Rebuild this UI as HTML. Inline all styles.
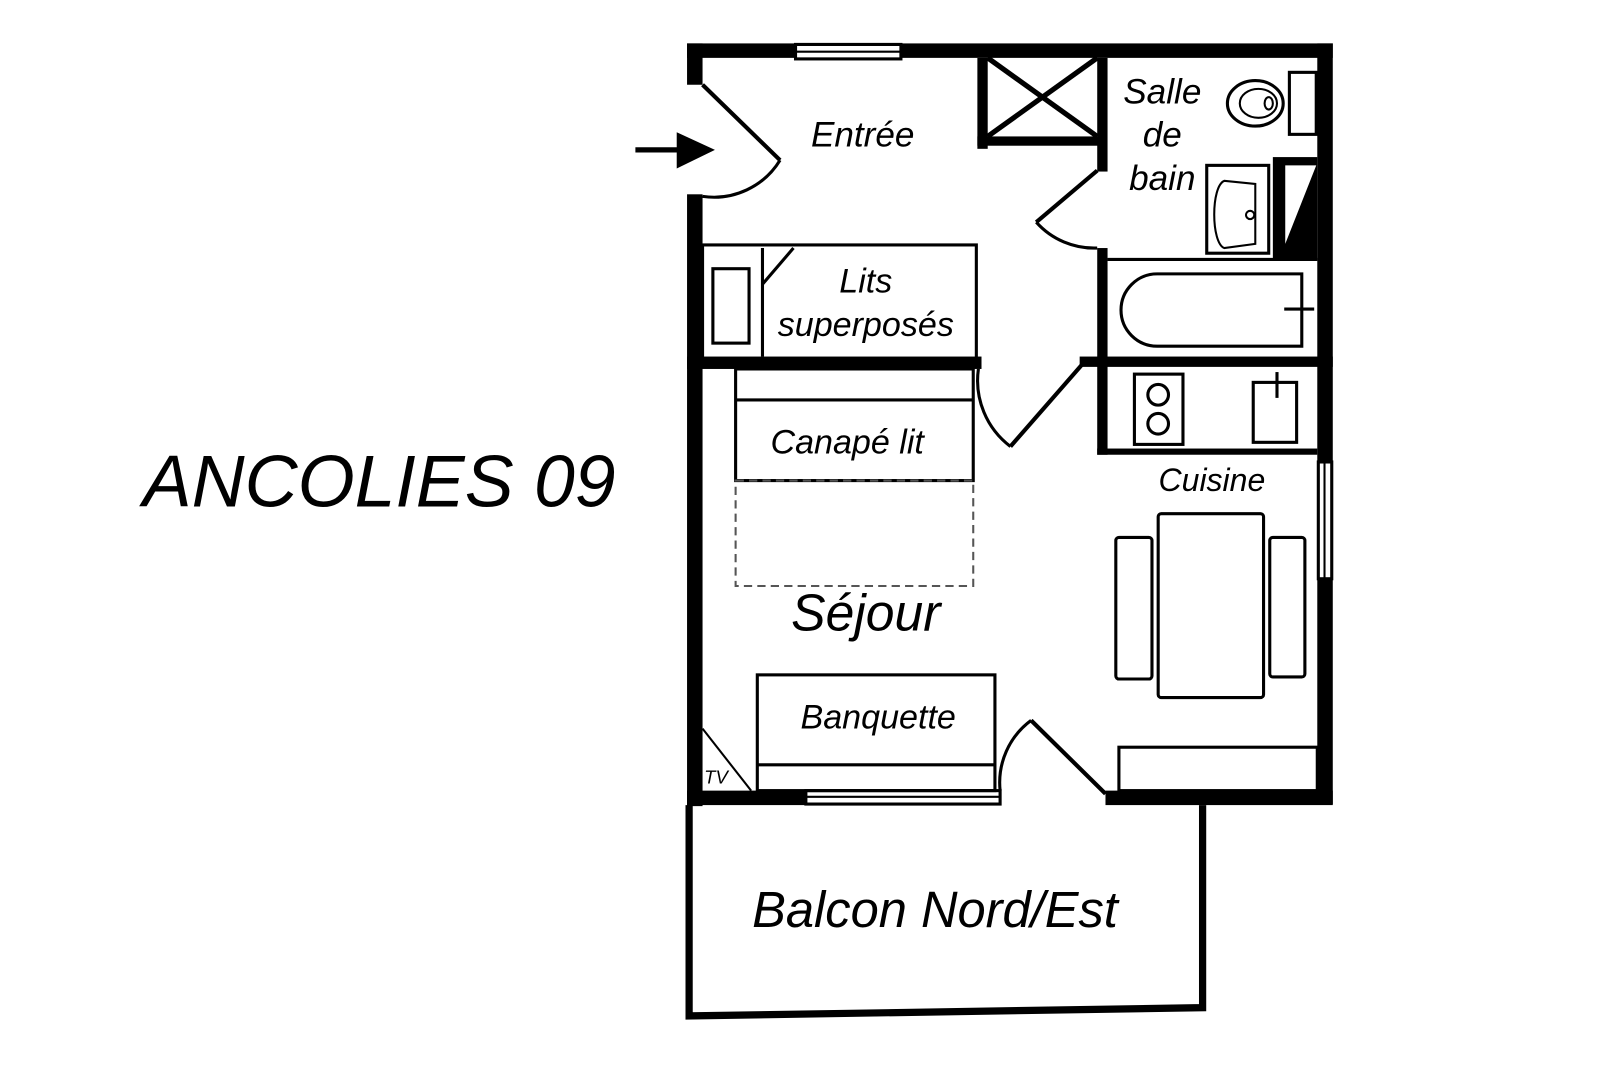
<!DOCTYPE html>
<html><head><meta charset="utf-8"><style>
html,body{margin:0;padding:0;background:#fff;width:1620px;height:1080px;overflow:hidden}
svg{display:block}
text{font-family:"Liberation Sans",sans-serif;font-style:italic;fill:#000;text-anchor:middle}
</style></head><body>
<svg width="1620" height="1080" viewBox="0 0 1568 1045" preserveAspectRatio="none" xmlns="http://www.w3.org/2000/svg">
<g fill="#000" stroke="none">
<rect x="665" y="42" width="105" height="14"/>
<rect x="872" y="42" width="418" height="14"/>
<rect x="665" y="42" width="15" height="40"/>
<rect x="665" y="188" width="15" height="592"/>
<rect x="1275" y="42" width="15" height="405"/>
<rect x="1275" y="560" width="15" height="218"/>
<rect x="665" y="765" width="115" height="14"/>
<rect x="1070" y="765" width="220" height="14"/>
<rect x="665" y="345" width="285" height="12"/>
<rect x="946" y="56" width="10" height="88"/>
<rect x="946" y="132" width="118" height="9"/>
<rect x="1062" y="56" width="10" height="110"/>
<rect x="1062" y="240" width="10" height="115"/>
<rect x="1045" y="345" width="245" height="10"/>
<rect x="1062" y="345" width="10" height="95"/>
<rect x="1062" y="434" width="213" height="6"/>
<rect x="1232" y="152" width="43" height="100"/>
</g>
<polygon points="1244,160 1274,160 1244,236" fill="#fff"/>
<g fill="none" stroke="#000" stroke-width="3">
<rect x="770" y="43" width="102" height="14"/><line x1="770" y1="50" x2="872" y2="50" stroke-width="2"/>
<rect x="1276" y="447" width="13" height="113"/><line x1="1282" y1="447" x2="1282" y2="560" stroke-width="2"/>
<rect x="780" y="765" width="188" height="13"/><line x1="780" y1="771" x2="968" y2="771" stroke-width="2"/>
<polyline points="667,779 667,983 1164,975 1164,779" stroke-width="7"/>
<line x1="680" y1="82" x2="755" y2="155" stroke-width="4"/>
<path d="M755,155 A75,75 0 0 1 680,190"/>
<line x1="956" y1="56" x2="1062" y2="132" stroke-width="5"/>
<line x1="1062" y1="56" x2="956" y2="132" stroke-width="5"/>
<line x1="1062" y1="165" x2="1003" y2="215" stroke-width="4"/>
<path d="M1003,215 A75,75 0 0 0 1062,240"/>
<line x1="1072" y1="251" x2="1275" y2="251"/>
<path d="M1260,265 H1120 A35,35 0 0 0 1120,335 H1260 Z"/>
<line x1="1243" y1="299" x2="1272" y2="299"/>
<rect x="1248" y="70" width="26" height="60"/>
<ellipse cx="1215" cy="100" rx="27" ry="22"/>
<ellipse cx="1218" cy="100" rx="18" ry="14" stroke-width="2"/>
<ellipse cx="1228" cy="100" rx="4" ry="6" stroke-width="2"/>
<rect x="1168" y="160" width="60" height="85"/>
<path d="M1185,175 C1172,180 1172,235 1185,240 L1215,236 L1215,178 Z" stroke-width="2"/>
<circle cx="1210" cy="208" r="4" stroke-width="2"/>
<rect x="1098" y="362" width="47" height="68"/>
<circle cx="1121" cy="382" r="10"/><circle cx="1121" cy="410" r="10"/>
<rect x="1213" y="370" width="42" height="58"/>
<line x1="1236" y1="360" x2="1236" y2="385"/>
<rect x="680" y="237" width="265" height="110"/>
<rect x="690" y="260" width="35" height="72"/>
<line x1="738" y1="240" x2="738" y2="345"/>
<line x1="738" y1="275" x2="768" y2="240"/>
<path d="M947,357 A80,80 0 0 0 978,432"/>
<line x1="978" y1="432" x2="1048" y2="352" stroke-width="4"/>
<rect x="712" y="357" width="230" height="108"/>
<line x1="712" y1="387" x2="942" y2="387"/>
<rect x="712" y="465" width="230" height="102" stroke-width="2" stroke-dasharray="8,5" stroke="#555"/>
<rect x="733" y="653" width="230" height="112"/>
<line x1="733" y1="740" x2="963" y2="740"/>
<line x1="680" y1="705" x2="727" y2="765" stroke-width="2"/>
<path d="M968,765 A75,75 0 0 1 998,697"/>
<line x1="998" y1="697" x2="1070" y2="768" stroke-width="4"/>
<rect x="1121" y="497" width="102" height="178" rx="3"/>
<rect x="1080" y="520" width="35" height="137" rx="3"/>
<rect x="1229" y="520" width="34" height="135" rx="3"/>
<rect x="1083" y="723" width="192" height="42"/>
<line x1="615" y1="145" x2="660" y2="145" stroke-width="5"/>
</g>
<polygon points="655,128 692,145 655,163" fill="#000"/>
<text x="835" y="142" font-size="34">Entrée</text>
<text x="1125" y="100" font-size="34">Salle</text>
<text x="1125" y="142" font-size="34">de</text>
<text x="1125" y="184" font-size="34">bain</text>
<text x="838" y="283" font-size="33">Lits</text>
<text x="838" y="325" font-size="33">superposés</text>
<text x="820" y="439" font-size="33">Canapé lit</text>
<text x="1173" y="475" font-size="31">Cuisine</text>
<text x="838" y="610" font-size="50">Séjour</text>
<text x="850" y="705" font-size="33">Banquette</text>
<text x="693" y="758" font-size="18">TV</text>
<text x="905" y="897" font-size="49">Balcon Nord/Est</text>
<text x="367" y="490" font-size="71">ANCOLIES 09</text>
</svg>
</body></html>
